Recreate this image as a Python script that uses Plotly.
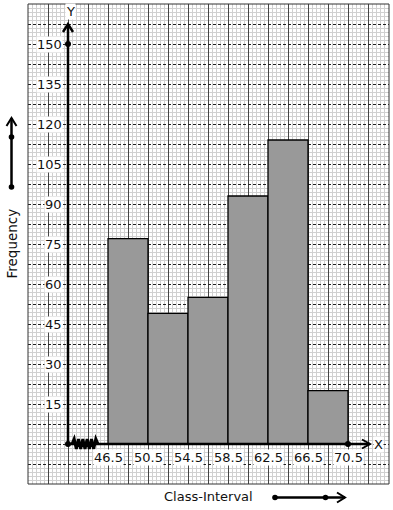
import plotly.graph_objects as go

# ---------------- data ----------------
class_bounds = [46.5, 50.5, 54.5, 58.5, 62.5, 66.5, 70.5]
frequencies = [77, 49, 55, 93, 114, 20]
y_tick_values = [15, 30, 45, 60, 75, 90, 105, 120, 135, 150]
x_tick_labels = ["46.5", "50.5", "54.5", "58.5", "62.5", "66.5", "70.5"]

# ---------------- geometry ----------------
W, H = 393, 510
ML, MR, MT, MB = 28, 4, 4, 26
X_RANGE = [38.5, 74.6]
Y_RANGE = [-15, 165]
X0 = 42.5  # where the y-axis is drawn (kinked origin)
PW, PH = W - ML - MR, H - MT - MB
PX_X = PW / (X_RANGE[1] - X_RANGE[0])
PX_Y = PH / (Y_RANGE[1] - Y_RANGE[0])


def dx(p):
    return p / PX_X


def dy(p):
    return p / PX_Y


def paper_x(px):
    return (px - ML) / PW


def paper_y(py):
    return (H - MB - py) / PH


mids = [(a + b) / 2 for a, b in zip(class_bounds[:-1], class_bounds[1:])]
widths = [b - a for a, b in zip(class_bounds[:-1], class_bounds[1:])]

fig = go.Figure()
fig.add_trace(go.Bar(
    x=mids, y=frequencies, width=widths,
    marker=dict(color="#999999", line=dict(color="black", width=1.3)),
    hoverinfo="skip", showlegend=False,
))

shapes = []
# border of the graph paper
shapes.append(dict(type="rect", xref="paper", yref="paper", x0=0, x1=1, y0=0, y1=1,
                   line=dict(color="#333", width=1), layer="above"))

# y axis
y_tip = 157.5
shapes.append(dict(type="line", x0=X0, x1=X0, y0=0, y1=y_tip,
                   line=dict(color="black", width=2.5), layer="above"))
shapes.append(dict(type="path",
                   path=f"M {X0-dx(5)},{y_tip-dy(8)} L {X0},{y_tip} L {X0+dx(5)},{y_tip-dy(8)}",
                   line=dict(color="black", width=2.5), layer="above"))
# x axis
x_tip = X0 + dx(302)
shapes.append(dict(type="line", x0=X0, x1=x_tip, y0=0, y1=0,
                   line=dict(color="black", width=2.5), layer="above"))
shapes.append(dict(type="path",
                   path=f"M {x_tip-dx(8)},{dy(4.5)} L {x_tip},0 L {x_tip-dx(8)},{-dy(4.5)}",
                   line=dict(color="black", width=2), layer="above"))
# zigzag kink
zx0, zx1, nseg = X0 + dx(4), X0 + dx(30), 12
pts = []
for i in range(nseg + 1):
    xx = zx0 + (zx1 - zx0) * i / nseg
    yy = 0 if i in (0, nseg) else (dy(5) if i % 2 else -dy(5))
    pts.append(f"{xx},{yy}")
shapes.append(dict(type="path", path="M " + " L ".join(pts),
                   line=dict(color="black", width=3), layer="above"))

# Frequency arrow (left, outside)
fx = paper_x(11.5)
shapes.append(dict(type="line", xref="paper", yref="paper", x0=fx, x1=fx,
                   y0=paper_y(187), y1=paper_y(118), line=dict(color="black", width=2.5)))
shapes.append(dict(type="path", xref="paper", yref="paper",
                   path=f"M {paper_x(6.5)},{paper_y(126)} L {fx},{paper_y(118)} L {paper_x(16.5)},{paper_y(126)}",
                   line=dict(color="black", width=2)))
for py in (137, 187):
    shapes.append(dict(type="circle", xref="paper", yref="paper",
                       x0=paper_x(11.5 - 2.8), x1=paper_x(11.5 + 2.8),
                       y0=paper_y(py + 2.8), y1=paper_y(py - 2.8),
                       fillcolor="black", line=dict(color="black", width=0)))
# Class-interval arrow (bottom, outside)
ay = paper_y(497.5)
shapes.append(dict(type="line", xref="paper", yref="paper", x0=paper_x(275), x1=paper_x(345),
                   y0=ay, y1=ay, line=dict(color="black", width=2.5)))
shapes.append(dict(type="path", xref="paper", yref="paper",
                   path=f"M {paper_x(337)},{paper_y(492.5)} L {paper_x(345)},{ay} L {paper_x(337)},{paper_y(502.5)}",
                   line=dict(color="black", width=2)))
for px in (275, 325.5):
    shapes.append(dict(type="circle", xref="paper", yref="paper",
                       x0=paper_x(px - 2.8), x1=paper_x(px + 2.8),
                       y0=paper_y(497.5 + 2.8), y1=paper_y(497.5 - 2.8),
                       fillcolor="black", line=dict(color="black", width=0)))

# dots on the axes
fig.add_trace(go.Scatter(x=[X0, X0, class_bounds[-1]], y=[0, y_tick_values[-1], 0],
                         mode="markers", marker=dict(color="black", size=6),
                         hoverinfo="skip", showlegend=False, cliponaxis=False))

FONT = "DejaVu Sans"
ann = []
for v in y_tick_values:
    ann.append(dict(x=X0, y=v, text=str(v), showarrow=False, xanchor="right", yanchor="middle",
                    xshift=-5, bgcolor="white", borderpad=0,
                    font=dict(family=FONT, size=13, color="#111")))
for b, t in zip(class_bounds, x_tick_labels):
    ann.append(dict(x=b, y=0, text=t, showarrow=False, xanchor="center", yanchor="middle",
                    yshift=-13, bgcolor="white", borderpad=0,
                    font=dict(family=FONT, size=13, color="#111")))
ann.append(dict(x=X0, y=162.3, text="Y", showarrow=False, xanchor="center", yanchor="middle",
                xshift=2, bgcolor="white", borderpad=0, font=dict(family=FONT, size=13, color="#111")))
ann.append(dict(x=x_tip, y=0, text="X", showarrow=False, xanchor="left", yanchor="middle",
                xshift=3, bgcolor="white", borderpad=0, font=dict(family=FONT, size=13, color="#111")))
ann.append(dict(xref="paper", yref="paper", x=paper_x(11.5), y=paper_y(244), text="Frequency",
                textangle=-90, showarrow=False, xanchor="center", yanchor="middle",
                font=dict(family=FONT, size=13.5, color="#111")))
ann.append(dict(xref="paper", yref="paper", x=paper_x(208), y=paper_y(496.5), text="Class-Interval",
                showarrow=False, xanchor="center", yanchor="middle",
                font=dict(family=FONT, size=13, color="#111")))

fig.update_layout(
    width=W, height=H,
    margin=dict(l=ML, r=MR, t=MT, b=MB),
    paper_bgcolor="white", plot_bgcolor="white",
    shapes=shapes, annotations=ann,
    bargap=0, showlegend=False,
    xaxis=dict(range=X_RANGE, tick0=38.5, dtick=2, showgrid=True, gridcolor="#444", gridwidth=1,
               griddash="solid",
               showticklabels=False, ticks="", zeroline=False, showline=False, fixedrange=True,
               minor=dict(tick0=38.5, dtick=0.4, showgrid=True, gridcolor="#d0d0d0", gridwidth=1,
                          griddash="solid")),
    yaxis=dict(range=Y_RANGE, tick0=0, dtick=7.5, showgrid=True, gridcolor="#222", gridwidth=1,
               griddash="3px,2px",
               showticklabels=False, ticks="", zeroline=False, showline=False, fixedrange=True,
               minor=dict(tick0=0, dtick=1.5, showgrid=True, gridcolor="#d0d0d0", gridwidth=1,
                          griddash="solid")),
)

fig.write_html("out.html", config={"displayModeBar": False, "staticPlot": True},
               post_script="document.body.style.margin='0';document.body.style.padding='0';")
